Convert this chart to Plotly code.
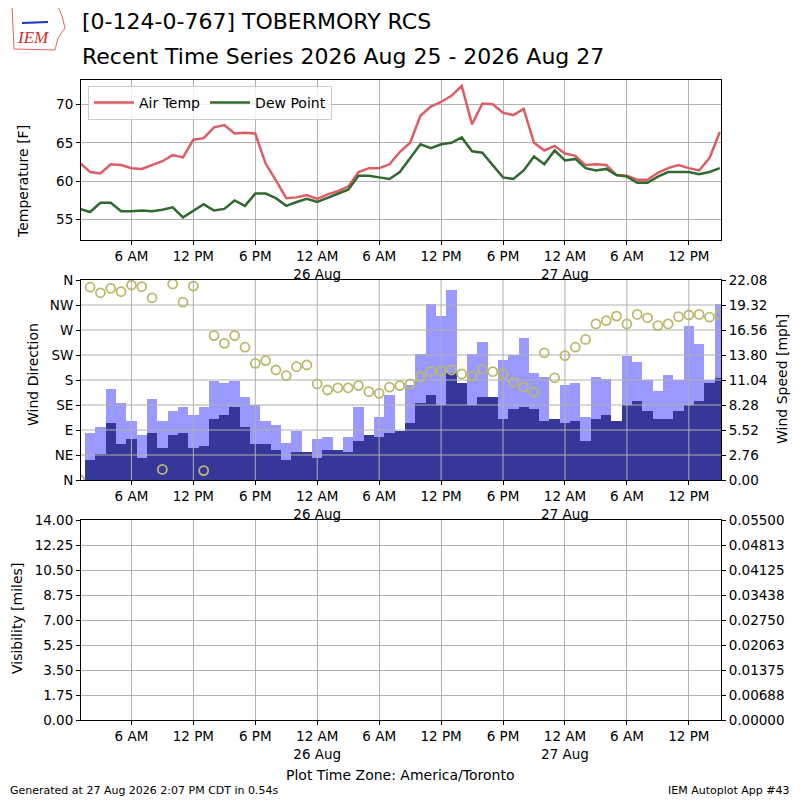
import plotly.graph_objects as go
import pandas as pd

# hourly obs, 1 AM 25 Aug .. 3 PM 27 Aug (America/Toronto)
times = pd.date_range("2026-08-25 01:00", periods=63, freq="h")

air_temp = [62.4, 61.2, 61.0, 62.2, 62.1, 61.7, 61.6, 62.1, 62.6, 63.4,
            63.1, 65.4, 65.6, 67.0, 67.3, 66.2, 66.3, 66.2, 62.3, 60.1,
            57.8, 57.9, 58.2, 57.7, 58.3, 58.7, 59.3, 61.2, 61.7, 61.7,
            62.2, 63.8, 65.0, 68.5, 69.7, 70.3, 71.1, 72.4, 67.4, 70.1,
            70.0, 68.9, 68.6, 69.4, 65.0, 64.0, 64.6, 63.6, 63.3, 62.1,
            62.2, 62.1, 60.8, 60.7, 60.2, 60.2, 61.1, 61.7, 62.1, 61.7,
            61.4, 63.0, 66.4]
dew_point = [56.4, 56.0, 57.2, 57.2, 56.1, 56.1, 56.2, 56.1, 56.3, 56.6,
             55.3, 56.2, 57.0, 56.2, 56.4, 57.5, 56.8, 58.4, 58.4, 57.8,
             56.8, 57.3, 57.7, 57.3, 57.8, 58.4, 58.9, 60.7, 60.7, 60.5,
             60.3, 61.2, 63.0, 64.8, 64.3, 64.8, 65.0, 65.7, 63.9, 63.7,
             62.1, 60.5, 60.3, 61.4, 63.2, 62.2, 64.0, 62.7, 62.9, 61.7,
             61.4, 61.6, 60.8, 60.6, 59.8, 59.8, 60.6, 61.2, 61.2, 61.2,
             60.9, 61.2, 61.7]
wind_speed = [0.0, 2.21, 2.87, 6.29, 4.01, 4.53, 2.47, 5.19, 3.53, 5.0,
              5.19, 3.53, 3.75, 6.73, 7.18, 8.06, 5.85, 3.97, 3.97, 3.31,
              2.21, 3.09, 3.13, 2.47, 3.31, 3.31, 3.09, 4.31, 4.97, 4.75,
              5.23, 5.45, 6.29, 8.5, 9.38, 8.28, 11.85, 10.75, 8.28, 9.16,
              9.16, 6.73, 7.84, 8.06, 7.84, 6.51, 6.73, 6.29, 6.51, 4.31,
              6.73, 7.18, 6.51, 8.28, 8.72, 7.62, 6.73, 6.73, 7.62, 8.28,
              8.72, 10.71, 11.26]
wind_gust = [None, 5.15, 5.85, 10.05, 8.5, 6.51, 4.97, 8.94, 6.51, 7.62,
             8.06, 7.18, 8.06, 10.97, 10.71, 10.97, 9.16, 8.24, 6.51, 6.07,
             4.05, 5.45, None, 4.53, 4.75, None, 4.75, 8.08, None, 6.96,
             9.38, None, 10.49, 13.87, 19.39, 18.1, 20.98, None, 13.87, 15.24,
             None, 13.25, 13.76, 15.68, 11.81, 11.37, None, 10.49, 10.71, 6.96,
             11.37, 11.15, None, 13.69, 13.03, 11.0, 9.83, 11.59, 11.0, 17.0,
             15.01, 11.0, 19.47]
wind_dir = [0, 347, 337, 345, 339, 351, 348, 328, 19, 353,
            320, 349, 17, 260, 246, 260, 239, 210, 215, 198,
            188, 204, 207, 173, 162, 166, 166, 170, 159, 156,
            167, 170, 173, 186, 195, 197, 198, 191, 187, 199,
            195, 191, 176, 167, 158, 229, 184, 224, 239, 253,
            281, 287, 295, 281, 298, 292, 278, 281, 294, 297,
            298, 293, 298]

temp_ticks = [55, 60, 65, 70]
dir_ticks = [0, 45, 90, 135, 180, 225, 270, 315, 360]
dir_labels = ["N", "NE", "E", "SE", "S", "SW", "W", "NW", "N"]
speed_ticks = [0, 2.76, 5.52, 8.28, 11.04, 13.80, 16.56, 19.32, 22.08]
vis_ticks = [0, 1.75, 3.5, 5.25, 7.0, 8.75, 10.5, 12.25, 14.0]
ceil_ticks = [0, 0.006875, 0.01375, 0.020625, 0.0275, 0.034375, 0.04125,
              0.048125, 0.055]
ceil_labels = ["0.00000", "0.00688", "0.01375", "0.02063", "0.02750",
               "0.03438", "0.04125", "0.04813", "0.05500"]

x_start = pd.Timestamp("2026-08-25 01:07")
x_end = pd.Timestamp("2026-08-27 15:07")
time_ticks = pd.date_range("2026-08-25 06:00", "2026-08-27 12:00", freq="6h")


def tick_label(t):
    if t.hour == 0:
        return "12 AM<br>%d Aug" % t.day
    h = t.hour % 12 or 12
    return "%d %s" % (h, "AM" if t.hour < 12 else "PM")


time_labels = [tick_label(t) for t in time_ticks]

# page pixels -> paper fractions (the page body adds an 8px offset)
OFF = 8


def px(x):
    return (x - OFF) / 800


def py(y):
    return 1 - (y - OFF) / 800


FONT = "DejaVu Sans"
GRID = "#b0b0b0"
TEMP_C = "#dc5d64"
DEW_C = "#306a30"
LIGHT_C = "#9999ff"
DARK_C = "#373699"
DIR_C = "#b9b96d"

fig = go.Figure()

# --- temperatures
fig.add_trace(go.Scatter(x=times, y=air_temp, mode="lines", name="Air Temp",
                         line=dict(color=TEMP_C, width=2.5),
                         xaxis="x", yaxis="y"))
fig.add_trace(go.Scatter(x=times, y=dew_point, mode="lines", name="Dew Point",
                         line=dict(color=DEW_C, width=2.5),
                         xaxis="x", yaxis="y"))

# --- wind bars (gust behind speed)
fig.add_trace(go.Bar(x=times, y=wind_gust, width=3600 * 1000,
                     marker=dict(color=LIGHT_C, line=dict(width=0)),
                     showlegend=False, xaxis="x2", yaxis="y2"))
fig.add_trace(go.Bar(x=times, y=wind_speed, width=3600 * 1000,
                     marker=dict(color=DARK_C, line=dict(width=0)),
                     showlegend=False, xaxis="x2", yaxis="y2"))

# grid over the bars, below the direction circles (like matplotlib)
gx, gy = [], []
for d in dir_ticks[1:-1]:
    gx += [x_start, x_end, None]
    gy += [d, d, None]
for t in time_ticks:
    gx += [t, t, None]
    gy += [0, 360, None]
fig.add_trace(go.Scatter(x=gx, y=gy, mode="lines", hoverinfo="skip",
                         line=dict(color=GRID, width=1), showlegend=False,
                         xaxis="x2", yaxis="y3"))

fig.add_trace(go.Scatter(x=times, y=wind_dir, mode="markers", showlegend=False,
                         marker=dict(symbol="circle-open", size=9,
                                     color=DIR_C, line=dict(width=1.8, color=DIR_C)),
                         xaxis="x2", yaxis="y3"))

# --- visibility / ceiling (no data)
fig.add_trace(go.Scatter(x=[], y=[], showlegend=False, xaxis="x3", yaxis="y4"))
fig.add_trace(go.Scatter(x=[], y=[], showlegend=False, xaxis="x3", yaxis="y5"))

xdom = [px(81), px(721)]
tickfont = dict(family=FONT, size=13.5, color="black")
xcommon = dict(type="date", range=[x_start, x_end], domain=xdom,
               tickmode="array", tickvals=list(time_ticks), ticktext=time_labels,
               ticks="outside", ticklen=4, tickcolor="black",
               showline=True, linecolor="black", linewidth=1, mirror=True,
               gridcolor=GRID, gridwidth=1, tickfont=tickfont, zeroline=False,
               automargin=False)
ycommon = dict(ticks="outside", ticklen=4, tickcolor="black",
               showline=True, linecolor="black", linewidth=1,
               gridcolor=GRID, gridwidth=1, tickfont=tickfont, zeroline=False,
               automargin=False)

fig.update_layout(
    width=800, height=800,
    margin=dict(l=0, r=0, t=0, b=0, autoexpand=False),
    paper_bgcolor="white", plot_bgcolor="white",
    font=dict(family=FONT, color="black"),
    barmode="overlay", bargap=0,
    xaxis=dict(xcommon, anchor="y"),
    yaxis=dict(ycommon, domain=[py(240), py(80)], range=[52.36, 73.16],
               tickvals=temp_ticks, mirror=True, anchor="x"),
    xaxis2=dict(xcommon, anchor="y2", showgrid=False),
    yaxis2=dict(ycommon, domain=[py(480), py(280)], range=[0, 22.08],
                side="right", tickvals=speed_ticks,
                ticktext=["%.2f" % v for v in speed_ticks],
                showgrid=False, anchor="x2"),
    yaxis3=dict(ycommon, range=[0, 360], overlaying="y2", side="left",
                tickvals=dir_ticks, ticktext=dir_labels, showgrid=False,
                anchor="x2"),
    xaxis3=dict(xcommon, anchor="y4"),
    yaxis4=dict(ycommon, domain=[py(720), py(520)], range=[0, 14],
                tickvals=vis_ticks, ticktext=["%.2f" % v for v in vis_ticks],
                anchor="x3"),
    yaxis5=dict(ycommon, range=[0, 0.055], overlaying="y4", side="right",
                tickvals=ceil_ticks, ticktext=ceil_labels, showgrid=False,
                anchor="x3"),
    legend=dict(x=px(88), y=py(86), xanchor="left", yanchor="top",
                orientation="h", bgcolor="rgba(255,255,255,0.8)",
                bordercolor="#cccccc", borderwidth=1,
                font=dict(family=FONT, size=14), itemwidth=40),
    showlegend=True,
)

# rough Iowa outline behind the IEM logo
fig.add_shape(type="path", xref="paper", yref="paper", layer="above",
              path="M %f,%f L %f,%f L %f,%f L %f,%f L %f,%f L %f,%f L %f,%f Z" % (
                  px(12), py(6), px(58), py(6), px(62), py(16), px(65), py(28),
                  px(58), py(38), px(55), py(50), px(14), py(49)),
              line=dict(color="#e06060", width=1))
fig.add_shape(type="line", xref="paper", yref="paper",
              x0=px(22), y0=py(23), x1=px(48), y1=py(22),
              line=dict(color="#2030c0", width=2))

ann = [
    dict(text="[0-124-0-767] TOBERMORY RCS", x=px(80), y=py(22),
         xanchor="left", yanchor="middle", font=dict(size=22)),
    dict(text="Recent Time Series 2026 Aug 25 - 2026 Aug 27", x=px(80),
         y=py(56), xanchor="left", yanchor="middle", font=dict(size=22)),
    dict(text="<i>IEM</i>", x=px(33), y=py(38), xanchor="center",
         yanchor="middle", font=dict(family="Liberation Serif", size=17,
                                     color="#d42a2a")),
    dict(text="Temperature [F]", x=px(23), y=py(182), textangle=-90,
         xanchor="center", yanchor="middle", font=dict(size=14)),
    dict(text="Wind Direction", x=px(33), y=py(375), textangle=-90,
         xanchor="center", yanchor="middle", font=dict(size=14)),
    dict(text="Wind Speed [mph]", x=px(782), y=py(379), textangle=-90,
         xanchor="center", yanchor="middle", font=dict(size=14)),
    dict(text="Visibility [miles]", x=px(17), y=py(619), textangle=-90,
         xanchor="center", yanchor="middle", font=dict(size=14)),
    dict(text="Overcast Ceiling [k ft]", x=px(794), y=py(619), textangle=-90,
         xanchor="left", yanchor="middle",
         font=dict(size=14, color="green")),
    dict(text="Plot Time Zone: America/Toronto", x=px(400), y=py(775),
         xanchor="center", yanchor="middle", font=dict(size=14)),
    dict(text="Generated at 27 Aug 2026 2:07 PM CDT in 0.54s", x=px(8),
         y=py(790), xanchor="left", yanchor="middle", font=dict(size=11)),
    dict(text="IEM Autoplot App #43", x=px(792), y=py(790),
         xanchor="right", yanchor="middle", font=dict(size=11)),
]
for a in ann:
    a.update(xref="paper", yref="paper", showarrow=False)
fig.update_layout(annotations=ann)

fig.write_html("out.html")
